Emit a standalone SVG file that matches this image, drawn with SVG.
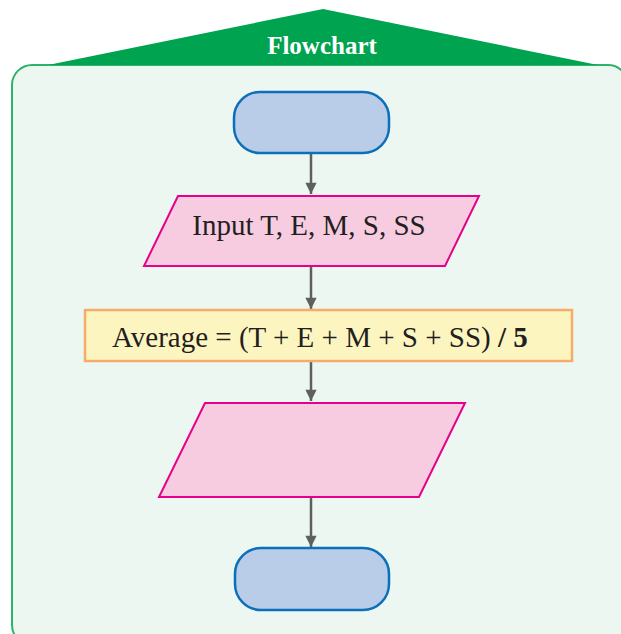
<svg xmlns="http://www.w3.org/2000/svg" width="621" height="634" viewBox="0 0 621 634">
<defs>
<style>
.term{fill:#b9cde8;stroke:#0b6fba;stroke-width:2.5}
.io{fill:#f8cce0;stroke:#e6008a;stroke-width:2}
.proc{fill:#fdf5c0;stroke:#f5ac6a;stroke-width:2.5}
.conn{stroke:#5f5f5f;stroke-width:2.5;fill:none}
.lbl{font-family:"Liberation Serif","Times New Roman",serif;font-size:29px;fill:#231f20}
</style>
<marker id="ah" viewBox="0 0 10 10" refX="10" refY="5" markerWidth="5.5" markerHeight="4.5" markerUnits="strokeWidth" orient="auto">
<path d="M0,0 L10,5 L0,10 z" fill="#5f5f5f"/>
</marker>
</defs>
<rect width="621" height="634" fill="#ffffff"/>
<g id="frame">
<rect x="12" y="65" width="616" height="580" rx="20" fill="#edf7f1" stroke="#2db36a" stroke-width="2"/>
<polygon points="48,65 323,9 598,65" fill="#00a34f"/>
<text x="322" y="54" text-anchor="middle" font-family="Liberation Serif,serif" font-weight="bold" font-size="25" fill="#ffffff">Flowchart</text>
</g>
<g id="connectors">
<line class="conn" x1="311" y1="153" x2="311" y2="194" marker-end="url(#ah)"/>
<line class="conn" x1="311" y1="266" x2="311" y2="309" marker-end="url(#ah)"/>
<line class="conn" x1="311" y1="361" x2="311" y2="401" marker-end="url(#ah)"/>
<line class="conn" x1="311" y1="497" x2="311" y2="547" marker-end="url(#ah)"/>
</g>
<g id="start">
<rect class="term" x="234" y="92" width="155" height="61" rx="26"/>
</g>
<g id="input">
<polygon class="io" points="178,196 479,196 445,266 144,266"/>
<text class="lbl" x="309" y="235" text-anchor="middle">Input T, E, M, S, SS</text>
</g>
<g id="process">
<rect class="proc" x="85" y="310" width="487" height="51"/>
<text class="lbl" x="112" y="347">Average = (T + E + M + S + SS) <tspan font-weight="bold">/ 5</tspan></text>
</g>
<g id="output">
<polygon class="io" points="205,403 465,403 419,497 159,497"/>
</g>
<g id="end">
<rect class="term" x="235" y="548" width="154" height="62" rx="26"/>
</g>
</svg>
